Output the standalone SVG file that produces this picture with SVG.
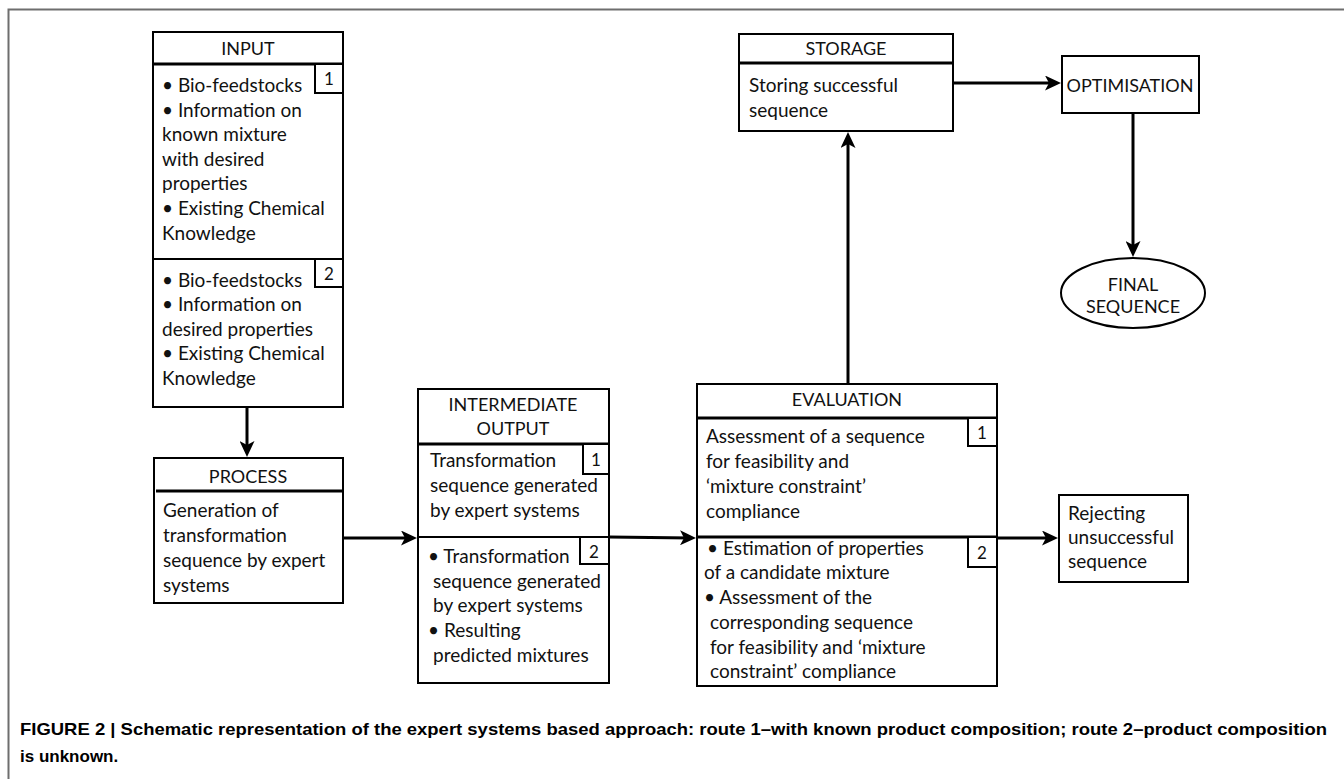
<svg xmlns="http://www.w3.org/2000/svg" width="1344" height="779" viewBox="0 0 1344 779">
<defs>
<marker id="ah" markerUnits="userSpaceOnUse" markerWidth="16" markerHeight="15" viewBox="0 0 16 15" refX="11" refY="7.5" orient="auto">
<path d="M0,0 L16,7.5 L0,15 L4,7.5 z" fill="#000"/>
</marker>
</defs>
<style>
.box{fill:#fff;stroke:#000;stroke-width:2}
.div{stroke:#000;stroke-width:3}
.thin{stroke:#000;stroke-width:2}
.badge{fill:#fff;stroke:#000;stroke-width:2}
.t{font-family:Lato,"Liberation Sans",sans-serif;font-size:19px;fill:#111}
.h{font-family:Lato,"Liberation Sans",sans-serif;font-size:18px;fill:#111;text-anchor:middle}
.b{font-family:Lato,"Liberation Sans",sans-serif;font-size:17px;fill:#111;text-anchor:middle}
.conn{stroke:#000;stroke-width:3;fill:none;marker-end:url(#ah)}
.cap{font-family:"Liberation Sans",Arial,sans-serif;font-size:17px;font-weight:bold;fill:#000}
</style>
<rect width="1344" height="779" fill="#fff"/>
<path d="M8.5,779 L8.5,9.5 L1344,9.5" fill="none" stroke="#6e6e6e" stroke-width="2"/>

<g id="input">
<rect class="box" x="153" y="32" width="190" height="375"/>
<line class="div" x1="153" y1="64" x2="343" y2="64"/>
<line class="thin" x1="153" y1="259" x2="343" y2="259"/>
<text class="h" x="248" y="55">INPUT</text>
<rect class="badge" x="315" y="64" width="28" height="29"/>
<text class="b" x="329" y="85">1</text>
<rect class="badge" x="315" y="259" width="28" height="28"/>
<text class="b" x="329" y="280">2</text>
<text class="t" x="162" y="92">• Bio-feedstocks</text>
<text class="t" x="162" y="117">• Information on</text>
<text class="t" x="162" y="141">known mixture</text>
<text class="t" x="162" y="166">with desired</text>
<text class="t" x="162" y="190">properties</text>
<text class="t" x="162" y="215">• Existing Chemical</text>
<text class="t" x="162" y="240">Knowledge</text>
<text class="t" x="162" y="287">• Bio-feedstocks</text>
<text class="t" x="162" y="311">• Information on</text>
<text class="t" x="162" y="336">desired properties</text>
<text class="t" x="162" y="360">• Existing Chemical</text>
<text class="t" x="162" y="385">Knowledge</text>
</g>

<g id="process">
<rect class="box" x="154" y="458" width="189" height="145"/>
<line class="div" x1="156" y1="491" x2="344" y2="491"/>
<text class="h" x="248" y="483">PROCESS</text>
<text class="t" x="163" y="517">Generation of</text>
<text class="t" x="163" y="542">transformation</text>
<text class="t" x="163" y="567">sequence by expert</text>
<text class="t" x="163" y="592">systems</text>
</g>

<g id="intermediate">
<rect class="box" x="418" y="389" width="191" height="294"/>
<line class="div" x1="418" y1="444" x2="609" y2="444"/>
<line class="thin" x1="418" y1="537" x2="609" y2="537"/>
<text class="h" x="513" y="411">INTERMEDIATE</text>
<text class="h" x="513" y="435">OUTPUT</text>
<rect class="badge" x="583" y="444" width="26" height="30"/>
<text class="b" x="596" y="466">1</text>
<rect class="badge" x="580" y="537" width="29" height="27"/>
<text class="b" x="594" y="558">2</text>
<text class="t" x="430" y="467">Transformation</text>
<text class="t" x="430" y="492">sequence generated</text>
<text class="t" x="430" y="517">by expert systems</text>
<text class="t" x="428" y="563">• Transformation</text>
<text class="t" x="433" y="588">sequence generated</text>
<text class="t" x="433" y="612">by expert systems</text>
<text class="t" x="428" y="637">• Resulting</text>
<text class="t" x="433" y="662">predicted mixtures</text>
</g>

<g id="evaluation">
<rect class="box" x="697" y="384" width="300" height="302"/>
<line class="div" x1="697" y1="418" x2="997" y2="418"/>
<line class="div" x1="697" y1="537" x2="997" y2="537"/>
<text class="h" x="847" y="406">EVALUATION</text>
<rect class="badge" x="968" y="418" width="29" height="28"/>
<text class="b" x="982" y="439">1</text>
<rect class="badge" x="968" y="537" width="29" height="30"/>
<text class="b" x="982" y="559">2</text>
<text class="t" x="706" y="443">Assessment of a sequence</text>
<text class="t" x="706" y="468">for feasibility and</text>
<text class="t" x="706" y="493">‘mixture constraint’</text>
<text class="t" x="706" y="518">compliance</text>
<text class="t" x="707" y="555">• Estimation of properties</text>
<text class="t" x="704" y="579">of a candidate mixture</text>
<text class="t" x="704" y="604">• Assessment of the</text>
<text class="t" x="710" y="629">corresponding sequence</text>
<text class="t" x="710" y="654">for feasibility and ‘mixture</text>
<text class="t" x="710" y="678">constraint’ compliance</text>
</g>

<g id="storage">
<rect class="box" x="739" y="34" width="214" height="97"/>
<line class="div" x1="739" y1="63" x2="953" y2="63"/>
<text class="h" x="846" y="55">STORAGE</text>
<text class="t" x="749" y="92">Storing successful</text>
<text class="t" x="749" y="117">sequence</text>
</g>

<g id="optimisation">
<rect class="box" x="1062" y="56" width="137" height="57"/>
<text class="h" x="1130" y="92">OPTIMISATION</text>
</g>

<g id="final">
<ellipse cx="1133" cy="293" rx="72" ry="35" fill="#fff" stroke="#000" stroke-width="2"/>
<text class="h" x="1133" y="291">FINAL</text>
<text class="h" x="1133" y="313">SEQUENCE</text>
</g>

<g id="rejecting">
<rect class="box" x="1059" y="495" width="129" height="87"/>
<text class="t" x="1068" y="520">Rejecting</text>
<text class="t" x="1068" y="544">unsuccessful</text>
<text class="t" x="1068" y="568">sequence</text>
</g>

<g id="connectors">
<line class="conn" x1="247" y1="407" x2="247" y2="452"/>
<line class="conn" x1="343" y1="538" x2="412" y2="538"/>
<path class="conn" d="M609,537 L691,538"/>
<line class="conn" x1="848" y1="384" x2="848" y2="137"/>
<line class="conn" x1="953" y1="83" x2="1056" y2="83"/>
<line class="conn" x1="1133" y1="113" x2="1133" y2="252"/>
<line class="conn" x1="997" y1="538" x2="1053" y2="538"/>
</g>

<g id="caption">
<text class="cap" x="20" y="735" textLength="1307" lengthAdjust="spacingAndGlyphs">FIGURE 2 | Schematic representation of the expert systems based approach: route 1–with known product composition; route 2–product composition</text>
<text class="cap" x="20" y="762">is unknown.</text>
</g>
</svg>
